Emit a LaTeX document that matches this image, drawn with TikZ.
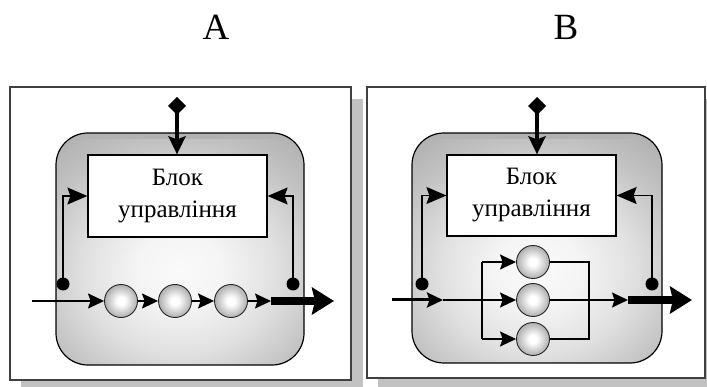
\documentclass[tikz,border=0pt]{standalone}
\usepackage{fontspec}
\setmainfont{Liberation Serif}
\usetikzlibrary{arrows.meta}
\pgfdeclareradialshading{sphere}{\pgfpoint{0bp}{0bp}}{color(0bp)=(white); color(6bp)=(white); color(24bp)=(black!30); color(50bp)=(black!75)}
\pgfdeclareradialshading{glow}{\pgfpoint{0bp}{0bp}}{color(0bp)=(black!2); color(7bp)=(black!4); color(16bp)=(black!12); color(25bp)=(black!24); color(31bp)=(black!30); color(50bp)=(black!31)}
\tikzset{
  frame/.style={fill=white, draw=black!75, line width=1.6pt},
  frameshadow/.style={fill=black!24},
  panelbox/.style={draw=black, line width=1.2pt, rounded corners=32pt},
  ctrl/.style={draw=black, line width=1.2pt, fill=white, inner sep=0pt,
    minimum height=82pt, align=center,
    font=\fontsize{25}{32}\selectfont},
  ballnode/.style={circle, minimum size=33pt, inner sep=0pt, shade, shading=sphere,
    draw=black!85, line width=0.9pt},
  dotnode/.style={circle, fill=black, minimum size=13pt, inner sep=0pt},
  flow/.style={line width=1.6pt, -{Stealth[length=16pt,width=15pt,inset=2.5pt]}},
  plain/.style={line width=1.5pt},
  feed/.style={line width=1.5pt, -{Stealth[length=20pt,width=17pt,inset=3pt]}},
  bigout/.style={line width=8pt, -{Stealth[length=22pt,width=27pt,inset=3pt]}},
  topio/.style={line width=4pt, {Turned Square[length=18pt,width=18pt]}-{Stealth[length=18pt,width=17pt,inset=3pt]}},
  title/.style={font=\fontsize{37}{42}\selectfont}
}
\begin{document}
\begin{tikzpicture}[x=1pt,y=-1pt]
\useasboundingbox (0,0) rectangle (707,387);
\fill[white] (0,0) rectangle (707,387);
\clip (0,0) rectangle (707,387);

% titles
\node[title] (tA) at (216,27) {A};
\node[title] (tB) at (566,27) {B};

% ---------- Panel A ----------
\fill[frameshadow] (21,99) rectangle (363,393);
\draw[frame] (10,87) rectangle (351,380);
\begin{scope}
  \clip[rounded corners=32pt] (56,133) rectangle (304,365);
  \fill[black!30] (56,133) rectangle (304,365);
  \shade[shading=glow] (30,140) rectangle (330,400);
\end{scope}
\draw[panelbox] (56,133) rectangle (304,365);

\node[ctrl, minimum width=179pt] (ctrlA) at (177.5,196) {Блок\\управління};
\coordinate (topA) at (177,97);
\draw[topio] (topA) -- (topA |- ctrlA.north);

\coordinate (inA) at (32,301);
\node[ballnode] (a1) at (121,301) {};
\node[ballnode] (a2) at (175,301) {};
\node[ballnode] (a3) at (231,301) {};
\coordinate (outA) at (271,301);
\coordinate (endA) at (334,301);
\draw[flow] (inA) -- (a1.west);
\draw[flow] (a1.east) -- (a2.west);
\draw[flow] (a2.east) -- (a3.west);
\draw[flow] (a3.east) -- (outA);
\draw[bigout] (outA) -- (endA);

\node[dotnode] (dA1) at (63,284) {};
\node[dotnode] (dA2) at (293,284) {};
\draw[feed] (dA1.center) |- (ctrlA.west);
\draw[feed] (dA2.center) |- (ctrlA.east);

% ---------- Panel B ----------
\fill[frameshadow] (378,99) rectangle (720,393);
\draw[frame] (367,87) rectangle (705,378);
\begin{scope}
  \clip[rounded corners=32pt] (412,133) rectangle (662,363);
  \fill[black!30] (412,133) rectangle (662,363);
  \shade[shading=glow] (387,140) rectangle (687,400);
\end{scope}
\draw[panelbox] (412,133) rectangle (662,363);

\node[ctrl, minimum width=169pt, minimum height=81pt] (ctrlB) at (531.5,195.5) {Блок\\управління};
\coordinate (topB) at (537,97);
\draw[topio] (topB) -- (topB |- ctrlB.north);

\node[ballnode] (b1) at (533,262) {};
\node[ballnode] (b2) at (533,300) {};
\node[ballnode] (b3) at (533,339) {};
\coordinate (inB) at (392,300);
\coordinate (jB) at (443,300);
\coordinate (sT) at (482,262);
\coordinate (sB) at (482,339);
\coordinate (mT) at (589,262);
\coordinate (mB) at (589,339);
\coordinate (outB) at (628,300);
\coordinate (endB) at (692,300);

\draw[line width=3pt, -{Stealth[length=16pt,width=15pt,inset=2.5pt]}] (inB) -- (jB);
\draw[flow] (jB) -- (b2.west);
\draw[plain] (sT) -- (sB);
\draw[flow] (sT) -- (b1.west);
\draw[flow] (sB) -- (b3.west);
\draw[plain] (b1.east) -- (mT) -- (mB) -- (b3.east);
\draw[flow] (b2.east) -- (outB);
\draw[bigout] (outB) -- (endB);

\node[dotnode] (dB1) at (422,284) {};
\node[dotnode] (dB2) at (652,284) {};
\draw[feed] (dB1.center) |- (ctrlB.west);
\draw[feed] (dB2.center) |- (ctrlB.east);
\end{tikzpicture}
\end{document}
